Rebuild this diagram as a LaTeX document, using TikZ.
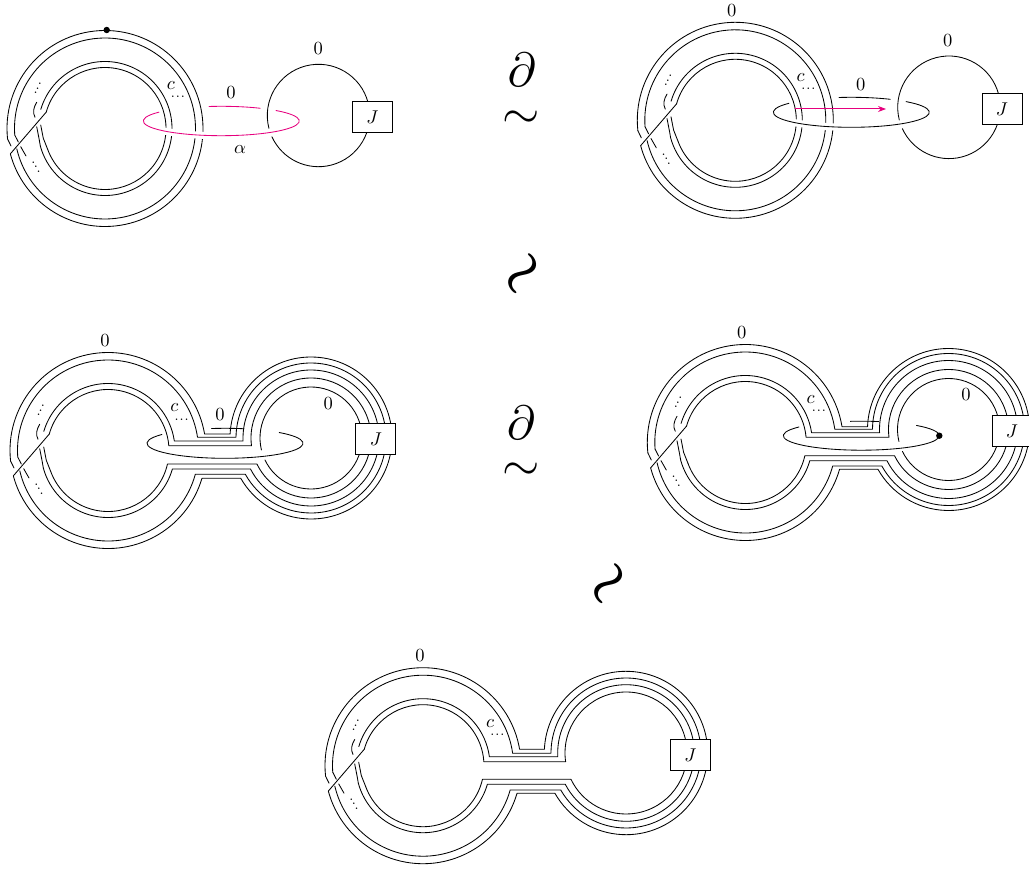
\documentclass[tikz,border=0pt]{standalone}
\usetikzlibrary{arrows.meta}
\definecolor{mag}{HTML}{E6007E}
\tikzset{
  knot/.style={line width=0.85pt,line cap=round,line join=round},
  lab/.style={inner sep=0pt,scale=1.85},
  dotsn/.style={inner sep=0pt,scale=1.45},
  jbox/.style={draw,line width=0.85pt,fill=white,minimum width=21.62pt,minimum height=16.76pt,inner sep=0pt,scale=1.85},
  bigsym/.style={inner sep=0pt,scale=4.8},
  twiddle/.style={inner sep=0pt,scale=5.3,rotate=52},
}
% arc of a circle, angles in picture coordinates (y down)
\newcommand\ringarc[6][knot]{\draw[#1] ({#2+#4*cos(#5)},{#3+#4*sin(#5)}) arc[start angle=#5,end angle=#6,radius=#4];}
% arc of an ellipse of x radius 78
\newcommand\ellarc[6][knot]{\draw[#1] ({#2+78*cos(#5)},{#3+#4*sin(#5)}) arc[start angle=#5,end angle=#6,x radius=78,y radius=#4];}
% three dots given by their positions
\newcommand\threedots[6]{\node[dotsn] at (#1,#2) {.};\node[dotsn] at (#3,#4) {.};\node[dotsn] at (#5,#6) {.};}
\newcommand\hdots[2]{\threedots{#1-5}{#2}{#1}{#2}{#1+5}{#2}}
% the twisted band at the left of a big ring: #1,#2 centre
\newcommand\twist[2]{%
  \begin{scope}[shift={(#1,#2)}]
    \draw[knot] (-94,17.5) -- ({98*cos(173.9)},{98*sin(173.9)});
    \draw[knot] (-86.7,13.5) -- ({90.5*cos(175.9)},{90.5*sin(175.9)});
    \draw[knot] ({98*cos(165)},{98*sin(165)}) -- ({61*cos(195.6)},{61*sin(195.6)});
    \draw[knot] ({67*cos(165)},{67*sin(165)}) -- (-65.7,11.5) -- (-68.3,-1.8);
    \draw[knot] ({61*cos(160)},{61*sin(160)}) -- (-61.7,9.8) -- (-64.3,-3.5);
    \draw[knot] (-68.3,-26.2) .. controls (-71.5,-21) and (-72.5,-16) .. (-70,-11.2);
    \draw[knot] (-84.3,18.2) -- (-79,27.5);
    \threedots{-65}{-44.5}{-67.3}{-39.5}{-69.3}{-35.5}
    \threedots{-71.7}{34.5}{-69}{38.5}{-66.3}{43.2}
  \end{scope}}
% the whole ring without the neck
\newcommand\bigring[2]{%
  \ringarc{#1}{#2}{98}{173.9}{525}
  \ringarc{#1}{#2}{90.5}{175.9}{527}
  \ringarc{#1}{#2}{67}{196.6}{525}
  \ringarc{#1}{#2}{61}{195.6}{520}}
% strand through the neck: uses \lx \ly \rx \ry
% #1 left radius, #2 right radius, #3 upper y, #4 lower y, #5 start angle, #6 end angle
\newcommand\neckarc[6]{%
  \pgfmathsetmacro\aA{360+asin((#3-\ly)/#1)}%
  \pgfmathsetmacro\aB{180-asin((#3-\ry)/#2)}%
  \pgfmathsetmacro\aC{540-asin((#4-\ry)/#2)}%
  \pgfmathsetmacro\aD{asin((#4-\ly)/#1)}%
  \draw[knot] ({\lx+#1*cos(#5)},{\ly+#1*sin(#5)}) arc[start angle=#5,end angle=\aA,radius=#1]
    -- ({\rx+#2*cos(\aB)},{#3}) arc[start angle=\aB,end angle=\aC,radius=#2]
    -- ({\lx+#1*cos(\aD)},{#4}) arc[start angle=\aD,end angle=#6,radius=#1];}
\begin{document}
\begin{tikzpicture}[x=1pt,y=-1pt]
\useasboundingbox (0,0) rectangle (1029,869);
\clip (0,0) rectangle (1029,869);
% ---------- panel 1
\bigring{105}{128.5}
\twist{105}{128.5}
\ringarc{318.5}{115.5}{51.2}{165.5}{515.4}
\ellarc[line width=7pt,white]{221.3}{121}{14.7}{180}{-42}
\ellarc[knot,mag]{221.3}{121}{14.7}{217}{-45.4}
\ellarc[knot,mag]{221.3}{121}{14.7}{261}{300}
\node[jbox] (ja) at (372.3,116.7) {$J$};
\fill (106.7,30) circle[radius=3.2];
\node[lab] (za) at (318.3,48.3) {$0$};
\node[lab] (zb) at (231,92.3) {$0$};
\node[lab] (al) at (240,150) {$\alpha$};
\node[lab] (ca) at (171,85.7) {$c$};
\hdots{178}{97}
% ---------- panel 2
\bigring{735.3}{120.3}
\twist{735.3}{120.3}
\ringarc{949}{107.3}{51.3}{165.5}{515.4}
\ellarc[line width=7pt,white]{851.3}{112.3}{15}{180}{-42}
\ellarc{851.3}{112.3}{15}{217}{-45.4}
\ellarc{851.3}{112.3}{15}{261}{300}
\coordinate (aa) at (795,109);
\coordinate (ab) at (886,109);
\draw[knot,mag,line width=1pt,-{Stealth[length=8pt,width=6pt]}] (aa) -- (ab);
\node[jbox] (jb) at (1002,108.8) {$J$};
\node[lab] (zc) at (731.7,11) {$0$};
\node[lab] (zd) at (947.7,41) {$0$};
\node[lab] (ze) at (860.7,85) {$0$};
\node[lab] (cb) at (800.7,77.3) {$c$};
\hdots{808.3}{89}
% ---------- panel 3
\def\lx{108}\def\ly{450.5}\def\rx{311}\def\ry{438}
\neckarc{98}{81}{434}{478.3}{173.9}{165}
\neckarc{90.5}{75}{437.3}{474.3}{175.9}{167}
\neckarc{67}{68}{441}{469}{196.6}{165}
\neckarc{61}{60}{445.7}{464}{195.6}{160}
\twist{108}{450.5}
\ringarc{311}{438}{51}{166.4}{514.5}
\ellarc{225}{443.3}{15}{216}{-46}
\ellarc{225}{443.3}{15}{260}{284}
\node[jbox] (jc) at (375.8,439.3) {$J$};
\node[lab] (zf) at (105,341) {$0$};
\node[lab] (zg) at (328.3,403.3) {$0$};
\node[lab] (zh) at (220,414.3) {$0$};
\node[lab] (cc) at (174.3,407.3) {$c$};
\hdots{181.7}{419.3}
% ---------- panel 4
\def\lx{745.3}\def\ly{442.5}\def\rx{948.5}\def\ry{429.5}
\neckarc{98}{81}{426.7}{469.3}{173.9}{165}
\neckarc{90.5}{76}{429.3}{466}{175.9}{167}
\neckarc{67}{69}{432.7}{460.7}{196.6}{165}
\neckarc{61}{60}{437.3}{455.7}{195.6}{160}
\twist{745.3}{442.5}
\ringarc{948.5}{429.5}{51}{166.4}{514.5}
\ellarc{861.3}{435.7}{14.5}{217}{0}
\ellarc{861.3}{435.7}{14.5}{-45}{0}
\ellarc{861.3}{435.7}{14.5}{262}{283}
\fill (939.3,435.7) circle[radius=3.2];
\node[jbox] (jd) at (1012,431.3) {$J$};
\node[lab] (zi) at (741.7,332.7) {$0$};
\node[lab] (zj) at (966,395) {$0$};
\node[lab] (cd) at (810.7,400) {$c$};
\hdots{819}{411}
% ---------- panel 5
\def\lx{423}\def\ly{765.7}\def\rx{626}\def\ry{753}
\neckarc{98}{81.7}{749.3}{793.3}{173.9}{165}
\neckarc{90.5}{75}{753.3}{790}{175.9}{167}
\neckarc{67}{68.3}{756.7}{784.3}{196.6}{165}
\neckarc{61}{61}{761.7}{779.3}{195.6}{160}
\twist{423}{765.7}
\node[jbox] (je) at (690.5,754.8) {$J$};
\node[lab] (zk) at (420,656) {$0$};
\node[lab] (ce) at (490,723.3) {$c$};
\hdots{497.3}{734.7}
% ---------- relations
\node[bigsym] (pa) at (521.7,70) {$\partial$};
\node[bigsym] (sa) at (521.3,119.5) {$\sim$};
\node[twiddle] (sb) at (525,275.5) {{\boldmath$\sim$}};
\node[bigsym] (pb) at (521,423) {$\partial$};
\node[bigsym] (sc) at (521,472) {$\sim$};
\node[twiddle] (sd) at (611,585.5) {{\boldmath$\sim$}};
\end{tikzpicture}
\end{document}
